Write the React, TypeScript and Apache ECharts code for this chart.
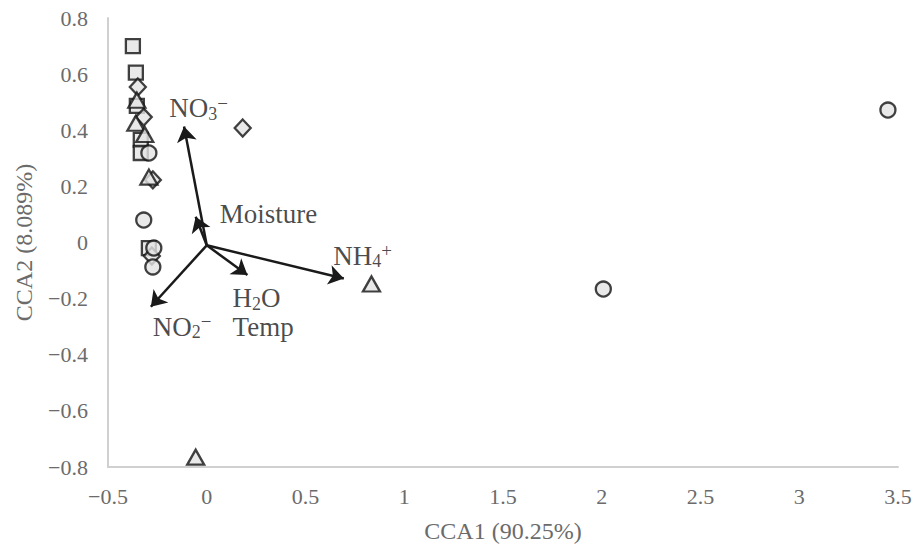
import React, { useEffect, useRef } from "react";
import * as echarts from "echarts";

// Sample scores (CCA1, CCA2) by marker shape
const squareX = [-0.374, -0.359, -0.354, -0.334, -0.334, -0.293];
const squareY = [0.70, 0.605, 0.487, 0.366, 0.319, -0.02];
const diamondX = [-0.349, -0.319, -0.273, 0.182, -0.278];
const diamondY = [0.554, 0.447, 0.223, 0.408, -0.048];
const triangleX = [-0.354, -0.359, -0.314, -0.293, 0.834, -0.056];
const triangleY = [0.507, 0.425, 0.385, 0.233, -0.148, -0.765];
const circleX = [-0.293, -0.319, -0.268, -0.273, 3.449, 2.008];
const circleY = [0.319, 0.080, -0.02, -0.087, 0.472, -0.166];

// Environmental vectors (origin -> tip)
const vectorNames = ["NO3-", "Moisture", "NH4+", "H2O Temp", "NO2-"];
const vectorOrigin = [0, -0.01];
const vectorTipX = [-0.115, -0.056, 0.694, 0.206, -0.283];
const vectorTipY = [0.413, 0.092, -0.128, -0.116, -0.229];

// Vector labels (left edge, vertical centre)
const labelTexts = [
  "{n|NO}{s|3}{p|−}",
  "{n|Moisture}",
  "{n|NH}{s|4}{p|+}",
  "{n|H}{s|2}{n|O}\n{n|Temp}",
  "{n|NO}{s|2}{p|−}",
];
const labelX = [-0.19, 0.066, 0.64, 0.131, -0.273];
const labelY = [0.479, 0.102, -0.048, -0.25, -0.301];

const xTicks = { min: -0.5, max: 3.5, interval: 0.5 };
const yTicks = { min: -0.8, max: 0.8, interval: 0.2 };

const FONT = "Liberation Serif";

function fmt(v: number): string {
  const r = Math.round(v * 10) / 10;
  if (r === 0) return "0";
  return r < 0 ? "−" + String(Math.abs(r)) : String(r);
}

export default function App() {
  const ref = useRef<HTMLDivElement>(null);
  useEffect(() => {
    if (!ref.current) return;
    const chart = echarts.init(ref.current, undefined, { renderer: "svg" });
    const markerStyle = { color: "#e3e3e3", borderColor: "#111111", borderWidth: 2.3 };
    const pts = (xs: number[], ys: number[]) => xs.map((x, i) => [x, ys[i]]);
    const rich = {
      n: { fontSize: 27, lineHeight: 29, fontFamily: FONT, color: "#1a1a1a" },
      s: { fontSize: 18, lineHeight: 12, verticalAlign: "bottom", fontFamily: FONT, color: "#1a1a1a" },
      p: { fontSize: 19, lineHeight: 14, verticalAlign: "top", fontFamily: FONT, color: "#1a1a1a" },
    };
    chart.setOption({
      animation: false,
      backgroundColor: "#ffffff",
      textStyle: { fontFamily: FONT },
      grid: { left: 108, right: 18, top: 18, bottom: 83, containLabel: false },
      xAxis: {
        type: "value",
        min: xTicks.min,
        max: xTicks.max,
        interval: xTicks.interval,
        name: "CCA1 (90.25%)",
        nameLocation: "middle",
        nameGap: 52,
        nameTextStyle: { fontFamily: FONT, fontSize: 24, color: "#6b6b6b" },
        axisLine: { onZero: false, lineStyle: { color: "#d0d0d0", width: 2 } },
        axisTick: { show: false },
        splitLine: { show: false },
        axisLabel: { formatter: fmt, fontFamily: FONT, fontSize: 22, color: "#6b6b6b", margin: 18 },
      },
      yAxis: {
        type: "value",
        min: yTicks.min,
        max: yTicks.max,
        interval: yTicks.interval,
        name: "CCA2 (8.089%)",
        nameLocation: "middle",
        nameGap: 72,
        nameTextStyle: { fontFamily: FONT, fontSize: 24, color: "#6b6b6b" },
        axisLine: { onZero: false, lineStyle: { color: "#d0d0d0", width: 2 } },
        axisTick: { show: false },
        splitLine: { show: false },
        axisLabel: { formatter: fmt, fontFamily: FONT, fontSize: 22, color: "#6b6b6b", margin: 20 },
      },
      series: [
        {
          type: "lines",
          coordinateSystem: "cartesian2d",
          polyline: false,
          symbol: ["none", "arrow"],
          symbolSize: 15,
          lineStyle: { color: "#1a1a1a", width: 2.5, opacity: 1 },
          data: vectorNames.map((name, i) => ({
            name,
            coords: [vectorOrigin, [vectorTipX[i], vectorTipY[i]]],
          })),
          z: 3,
        },
        {
          type: "scatter",
          symbol: "rect",
          symbolSize: 14,
          itemStyle: markerStyle,
          data: pts(squareX, squareY),
          z: 4,
        },
        {
          type: "scatter",
          symbol: "diamond",
          symbolSize: [16, 17],
          itemStyle: markerStyle,
          data: pts(diamondX, diamondY),
          z: 4,
        },
        {
          type: "scatter",
          symbol: "triangle",
          symbolSize: [17, 15],
          itemStyle: markerStyle,
          data: pts(triangleX, triangleY),
          z: 4,
        },
        {
          type: "scatter",
          symbol: "circle",
          symbolSize: 15,
          itemStyle: markerStyle,
          data: pts(circleX, circleY),
          z: 4,
        },
        {
          type: "scatter",
          symbolSize: 0,
          silent: true,
          data: labelTexts.map((t, i) => ({
            value: [labelX[i], labelY[i]],
            label: {
              show: true,
              position: "inside",
              align: "left",
              verticalAlign: "middle",
              formatter: t,
              rich,
            },
          })),
          z: 5,
        },
      ],
    });
    return () => chart.dispose();
  }, []);
  return (
    <div
      ref={ref}
      style={{ position: "fixed", left: 0, top: 0, width: 916, height: 550 }}
    />
  );
}
